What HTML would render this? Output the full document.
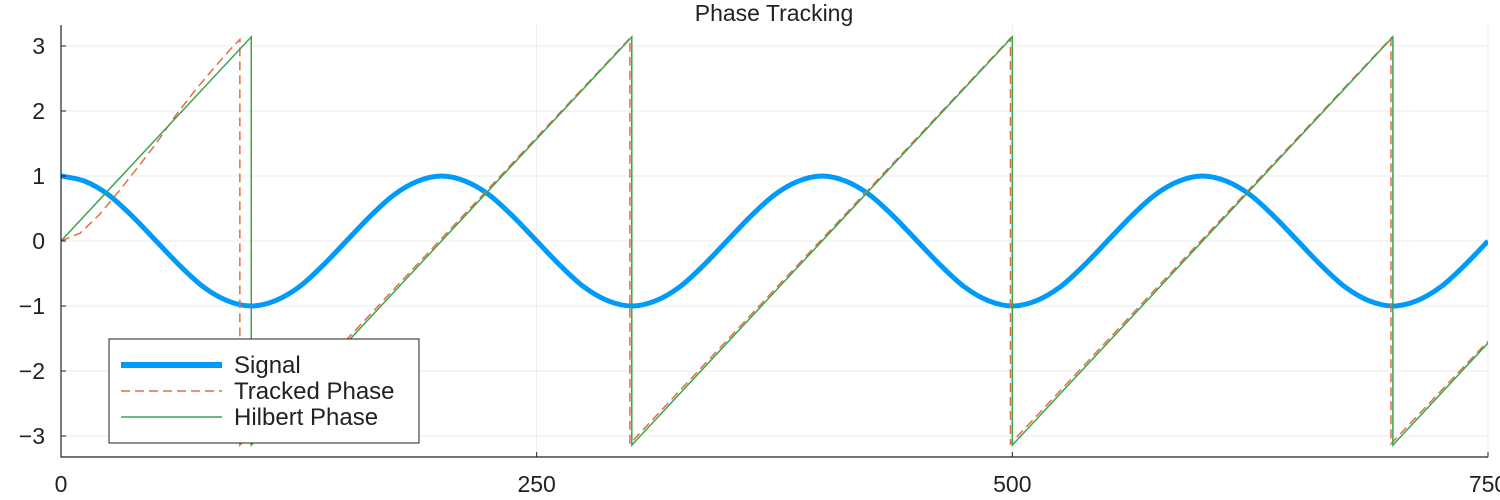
<!DOCTYPE html>
<html><head><meta charset="utf-8"><style>
body{margin:0;background:#fff;}
svg{display:block;font-family:"Liberation Sans","DejaVu Sans",sans-serif;}
</style></head><body>
<svg id="chart" width="1500" height="500">
<defs><clipPath id="clip"><rect x="61" y="25" width="1427" height="432"/></clipPath></defs>
<text x="774" y="21" text-anchor="middle" font-size="23" fill="#222">Phase Tracking</text>
<g id="grid"></g>
<g id="series" clip-path="url(#clip)"></g>
<g id="axes"></g>
<g id="legend">
<rect x="109" y="339" width="310" height="104" fill="#fff" stroke="#222" stroke-width="1"/>
<line x1="121" y1="365" x2="222" y2="365" stroke="#009af9" stroke-width="6"/>
<text x="234" y="373" font-size="24" fill="#222">Signal</text>
<line x1="121" y1="391" x2="222" y2="391" stroke="#e26f46" stroke-width="1.5" stroke-dasharray="9,5"/>
<text x="234" y="399" font-size="24" fill="#222">Tracked Phase</text>
<line x1="121" y1="417" x2="222" y2="417" stroke="#3ea44e" stroke-width="1.5"/>
<text x="234" y="425" font-size="24" fill="#222">Hilbert Phase</text>
</g>
</svg>
<script>
const xTicks=[0,250,500,750];
const yTicks=[-3,-2,-1,0,1,2,3];
const yTickLabels=["\u22123","\u22122","\u22121","0","1","2","3"];
const signalX=[0,12.5,25,37.5,50,62.5,75,87.5,100,112.5,125,137.5,150,162.5,175,187.5,200,212.5,225,237.5,250,262.5,275,287.5,300,312.5,325,337.5,350,362.5,375,387.5,400,412.5,425,437.5,450,462.5,475,487.5,500,512.5,525,537.5,550,562.5,575,587.5,600,612.5,625,637.5,650,662.5,675,687.5,700,712.5,725,737.5,750];
const signalY=[1,.92,.71,.38,0,-.38,-.71,-.92,-1,-.92,-.71,-.38,0,.38,.71,.92,1,.92,.71,.38,0,-.38,-.71,-.92,-1,-.92,-.71,-.38,0,.38,.71,.92,1,.92,.71,.38,0,-.38,-.71,-.92,-1,-.92,-.71,-.38,0,.38,.71,.92,1,.92,.71,.38,0,-.38,-.71,-.92,-1,-.92,-.71,-.38,0];
const trackedX=[0,10,20,30,40,50,60,70,80,90,94,94,150,299,299,499,499,699,699,750];
const trackedY=[0,.12,.4,.75,1.12,1.5,1.92,2.3,2.65,2.98,3.1,-3.14,-1.52,3.12,-3.12,3.12,-3.12,3.12,-3.12,-1.54];
const hilbertX=[0,100,100,300,300,500,500,700,700,750];
const hilbertY=[0,3.14,-3.14,3.14,-3.14,3.14,-3.14,3.14,-3.14,-1.57];

const NS="http://www.w3.org/2000/svg";
const X0=61,X1=1488,Y0=457,Y1=25;
const sx=v=>X0+(v-0)/(750-0)*(X1-X0);
const sy=v=>241-v*65;
function mk(tag,attrs,parent){const e=document.createElementNS(NS,tag);for(const k in attrs)e.setAttribute(k,attrs[k]);parent.appendChild(e);return e;}
const grid=document.getElementById('grid'),axes=document.getElementById('axes'),series=document.getElementById('series');
xTicks.forEach((t,i)=>{
 const g=mk('line',{x1:sx(t),x2:sx(t),y1:Y1,y2:Y0,stroke:'#000','stroke-opacity':0.08},grid);
 
 
 const tk=mk('line',{x1:sx(t),x2:sx(t),y1:Y0,y2:Y0-5,stroke:'#222'},axes);
 
 
 const tx=mk('text',{x:sx(t),y:492,'text-anchor':'middle','font-size':23,fill:'#222'},axes);
 tx.textContent=String(t);
 
 
});
yTicks.forEach((t,i)=>{
 const g=mk('line',{x1:X0,x2:X1,y1:sy(t),y2:sy(t),stroke:'#000','stroke-opacity':0.08},grid);
 
 
 const tk=mk('line',{x1:X0,x2:X0+5,y1:sy(t),y2:sy(t),stroke:'#222'},axes);
 
 
 const tx=mk('text',{x:45,y:sy(t)+8,'text-anchor':'end','font-size':23,fill:'#222'},axes);
 tx.textContent=yTickLabels[i];
 
 
});
const ax=mk('path',{d:`M${X0},${Y1}V${Y0}H${X1}`,fill:'none',stroke:'#222','stroke-width':1.2},axes);


function smooth(xs,ys){const p=xs.map((x,i)=>[sx(x),sy(ys[i])]);let d=`M${p[0][0]},${p[0][1]}`;
 for(let i=0;i<p.length-1;i++){const a=p[i-1]||p[i],b=p[i],c=p[i+1],e=p[i+2]||c;
 d+=`C${b[0]+(c[0]-a[0])/6},${b[1]+(c[1]-a[1])/6} ${c[0]-(e[0]-b[0])/6},${c[1]-(e[1]-b[1])/6} ${c[0]},${c[1]}`;}return d;}
function poly(xs,ys){return xs.map((x,i)=>(i?'L':'M')+sx(x)+','+sy(ys[i])).join('');}
const s=mk('path',{d:smooth(signalX,signalY),fill:'none',stroke:'#009af9','stroke-width':5},series);


const tr=mk('path',{d:poly(trackedX,trackedY),fill:'none',stroke:'#e26f46','stroke-width':1.5,'stroke-dasharray':'9,5'},series);


const hb=mk('path',{d:poly(hilbertX,hilbertY),fill:'none',stroke:'#3ea44e','stroke-width':1.5},series);


</script>
</body></html>
